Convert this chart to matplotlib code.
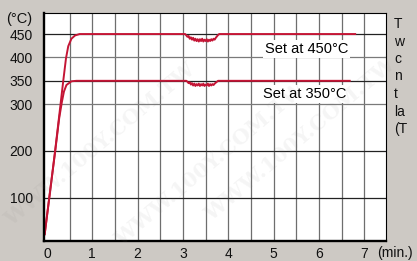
import matplotlib
matplotlib.use("Agg")
import matplotlib.pyplot as plt

plt.rcParams['font.family'] = ['Liberation Sans', 'DejaVu Sans']

# ---- data ----
x_ticks = [0, 1, 2, 3, 4, 5, 6, 7]
x_tick_labels = ['0', '1', '2', '3', '4', '5', '6', '7']
y_ticks = [100, 200, 300, 350, 400, 450]
y_tick_labels = ['100', '200', '300', '350', '400', '450']
x_grid = [0.5, 1.0, 1.5, 2.0, 2.5, 3.0, 3.5, 4.0, 4.5, 5.0, 5.5, 6.0, 6.5, 7.0]

t450 = [-0.05, 0.18, 0.30, 0.36, 0.42, 0.47, 0.54, 0.62, 0.72, 0.90,
        3.050, 3.075, 3.100, 3.125, 3.150, 3.175, 3.200, 3.225, 3.250, 3.275,
        3.300, 3.325, 3.350, 3.375, 3.400, 3.425, 3.450, 3.475, 3.500, 3.525,
        3.550, 3.575, 3.600, 3.625, 3.650, 3.675, 3.700, 3.725, 3.750, 3.775,
        3.800, 6.80]
v450 = [22, 200, 300, 350, 398, 424, 440, 447, 450, 450,
        450, 447, 444, 446, 440, 443, 438, 442, 436, 440,
        435, 439, 434, 439, 435, 440, 434, 438, 435, 439,
        434, 438, 435, 439, 436, 440, 438, 442, 445, 448,
        450, 450]

t350 = [-0.05, 0.18, 0.27, 0.33, 0.375, 0.43, 0.54, 0.65,
        3.075, 3.100, 3.125, 3.150, 3.175, 3.200, 3.225, 3.250, 3.275, 3.300,
        3.325, 3.350, 3.375, 3.400, 3.425, 3.450, 3.475, 3.500, 3.525, 3.550,
        3.575, 3.600, 3.625, 3.650, 3.675, 3.700, 3.725, 3.750, 3.775, 6.68]
v350 = [22, 198, 270, 305, 327, 341, 349, 350,
        350, 348, 345, 347, 342, 345, 340, 344, 339, 343,
        340, 344, 339, 343, 340, 344, 339, 342, 340, 344,
        339, 343, 340, 343, 341, 344, 346, 348, 350, 350]

label450 = 'Set at 450°C'
label350 = 'Set at 350°C'
side_letters = ['T', 'w', 'c', 'n', 't', 'la', '(T']

# ---- figure ----
W, H = 417, 261
fig = plt.figure(figsize=(W / 100, H / 100), dpi=100, facecolor='#cdc9c4')
ax = fig.add_axes([44 / W, 20 / H, 342 / W, 228 / H])
ax.set_facecolor('white')
ax.set_xlim(-0.065, 7.48)
ax.set_ylim(7.5, 495)

for xv in x_grid:
    ax.axvline(xv, color='#6e6e6e', lw=0.9, zorder=1)
for yv in y_ticks:
    c = '#7a7a7a' if yv in (300, 400) else '#222222'
    ax.axhline(yv, color=c, lw=0.9, zorder=1)

ax.plot(t450, v450, color='#c41535', lw=1.4, zorder=3)
ax.plot(t350, v350, color='#c41535', lw=1.4, zorder=3)

ax.text(4.81, 409, label450, fontsize=10.5, va='baseline', ha='left', zorder=4,
        bbox=dict(facecolor='white', edgecolor='none', pad=1.5))
ax.text(4.77, 313, label350, fontsize=10.5, va='baseline', ha='left', zorder=4,
        bbox=dict(facecolor='white', edgecolor='none', pad=1.5))

ax.set_xticks(x_ticks)
ax.set_xticklabels(x_tick_labels)
ax.set_yticks(y_ticks)
ax.set_yticklabels(y_tick_labels)
ax.tick_params(axis='both', length=0, labelsize=10, colors='#111111')
ax.tick_params(axis='y', pad=8)
ax.tick_params(axis='x', pad=4.5)

for s in ['left', 'bottom']:
    ax.spines[s].set_linewidth(1.7)
for s in ['top', 'right']:
    ax.spines[s].set_linewidth(0.8)
for s in ax.spines.values():
    s.set_color('black')
    s.set_zorder(5)

fig.text(19 / W, 1 - 19 / H, '(°C)', fontsize=10.5, ha='center', va='center', color='#111111')
fig.text(377 / W, 1 - 253 / H, '(min.)', fontsize=10, ha='left', va='center', color='#111111')

baselines = [28, 45.5, 63, 80.5, 98, 115.5, 133]
for letter, b in zip(side_letters, baselines):
    fig.text(394 / W, 1 - b / H, letter, fontsize=10, ha='left', va='baseline', color='#111111')

# faint watermark
for (cx, cy) in [(100, 145), (210, 165), (300, 140)]:
    fig.text(cx / W, 1 - cy / H, 'WWW.100Y.COM.TW', fontsize=15, family='DejaVu Serif',
             weight='bold', rotation=40, ha='center', va='center', color='#808080', alpha=0.08)

fig.savefig('out.png', dpi=100, facecolor=fig.get_facecolor())
